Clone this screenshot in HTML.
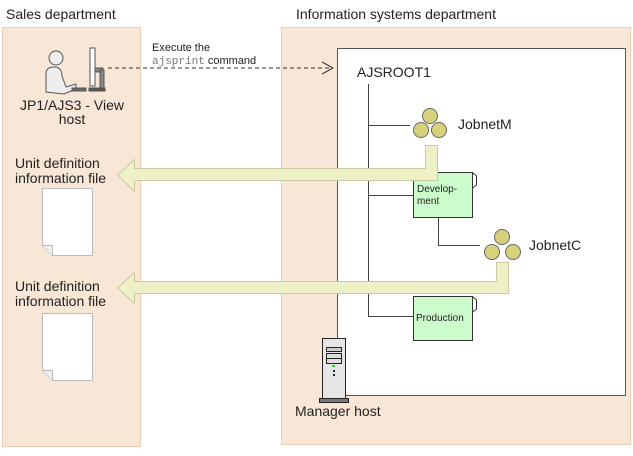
<!DOCTYPE html>
<html><head><meta charset="utf-8"><style>
body{margin:0;background:#fff;}
svg text{font-family:"Liberation Sans",sans-serif;fill:#222;}
</style></head><body>
<svg width="633" height="451" viewBox="0 0 633 451" xmlns="http://www.w3.org/2000/svg">
<text x="6" y="19" font-size="14">Sales department</text>
<text x="296" y="19" font-size="14">Information systems department</text>
<rect x="2.5" y="27.5" width="138" height="419" fill="#f8e6d6" stroke="#eccdb0"/>
<rect x="281.5" y="27.5" width="349" height="417" fill="#f8e6d6" stroke="#eccdb0"/>
<rect x="337.5" y="48.5" width="288" height="347" fill="#fff" stroke="#555"/>
<g stroke="#555" stroke-width="1">
<circle cx="56" cy="58" r="7" fill="#eee"/>
<path d="M46,92 L46,74 Q46,67 54,67 Q62,67 62,76 L66,87 L76,84 L76,89 L64,94 Z" fill="#eee"/>
<rect x="72" y="88" width="14" height="3" fill="#666"/>
<rect x="90" y="48" width="5" height="38" fill="#fff"/>
<rect x="95" y="68" width="8" height="4" fill="#888"/>
<rect x="100" y="70" width="4" height="18" fill="#888"/>
<rect x="89" y="88" width="16" height="3" fill="#555"/>
</g>
<text x="72" y="110" font-size="14" text-anchor="middle">JP1/AJS3 - View</text>
<text x="72" y="124" font-size="14" text-anchor="middle">host</text>
<text x="152" y="51" font-size="11">Execute the</text>
<text x="152" y="64" font-size="11"><tspan font-family="Liberation Mono" fill="#777">ajsprint</tspan> command</text>
<line x1="108" y1="68" x2="332" y2="68" stroke="#333" stroke-dasharray="4,3"/>
<path d="M322,62 L333,68 L322,74" fill="none" stroke="#333"/>
<text x="357" y="77" font-size="14">AJSROOT1</text>
<g stroke="#444" fill="none">
<line x1="368.5" y1="84" x2="368.5" y2="316"/>
<line x1="368" y1="125.5" x2="410" y2="125.5"/>
<line x1="368" y1="195.5" x2="413" y2="195.5"/>
<line x1="368" y1="316.5" x2="413" y2="316.5"/>
<line x1="438.5" y1="218" x2="438.5" y2="245.5"/>
<line x1="438" y1="245.5" x2="480" y2="245.5"/>
</g>
<rect x="413.5" y="172.5" width="59" height="45" fill="#ccfccc" stroke="#333"/>
<path d="M472.5,172.5 L476.5,176 L476.5,185 L472.5,188" fill="none" stroke="#333"/>
<text x="417" y="192" font-size="10">Develop-</text>
<text x="417" y="204" font-size="10">ment</text>
<rect x="413.5" y="296.5" width="59" height="44" fill="#ccfccc" stroke="#333"/>
<path d="M472.5,296.5 L476.5,300 L476.5,309 L472.5,312" fill="none" stroke="#333"/>
<text x="416" y="321" font-size="10">Production</text>
<g fill="#eef0c6" stroke="#c9c9a6">
<path d="M425.5,145.5 L437.5,145.5 L437.5,180.5 L134.5,180.5 L134.5,191.5 L117.5,175 L134.5,159.5 L134.5,168.5 L425.5,168.5 Z"/>
<path d="M496.5,262.5 L508.5,262.5 L508.5,293.5 L134.5,293.5 L134.5,303.5 L117.5,288 L134.5,272.5 L134.5,281.5 L496.5,281.5 Z"/>
</g>
<g fill="#d6d27c" stroke="#666">
<circle cx="430" cy="116" r="7.5"/><circle cx="421" cy="130" r="7.5"/><circle cx="439" cy="130" r="7.5"/>
<circle cx="502" cy="237" r="7.5"/><circle cx="492" cy="252" r="7.5"/><circle cx="513" cy="252" r="7.5"/>
</g>
<text x="458" y="129" font-size="14">JobnetM</text>
<text x="529" y="250" font-size="14">JobnetC</text>
<text x="15" y="168" font-size="14">Unit definition</text>
<text x="15" y="183" font-size="14">information file</text>
<path d="M42.5,188.5 L92.5,188.5 L92.5,255.5 L52.5,255.5 L42.5,245.5 Z" fill="#fff" stroke="#bbb"/>
<path d="M42.5,245.5 L52.5,245.5 L52.5,255.5" fill="#eee" stroke="#bbb"/>
<text x="15" y="291" font-size="14">Unit definition</text>
<text x="15" y="306" font-size="14">information file</text>
<path d="M42.5,313.5 L92.5,313.5 L92.5,380.5 L52.5,380.5 L42.5,370.5 Z" fill="#fff" stroke="#bbb"/>
<path d="M42.5,370.5 L52.5,370.5 L52.5,380.5" fill="#eee" stroke="#bbb"/>
<g stroke="#222">
<rect x="322.5" y="338.5" width="23" height="60" fill="#e6e6e6"/>
<rect x="326.5" y="347.5" width="15" height="4" fill="#ccc"/>
<rect x="326.5" y="353.5" width="15" height="5" fill="#ddd"/>
<rect x="326.5" y="358.5" width="15" height="5" fill="#ddd"/>
<rect x="319.5" y="398.5" width="29" height="4" fill="#777"/>
</g>
<rect x="332" y="365" width="3" height="2" fill="#3c3"/>
<rect x="333" y="370" width="2" height="2" fill="#222"/>
<rect x="333" y="374" width="2" height="2" fill="#222"/>
<text x="295" y="416" font-size="14">Manager host</text>
</svg>
</body></html>
